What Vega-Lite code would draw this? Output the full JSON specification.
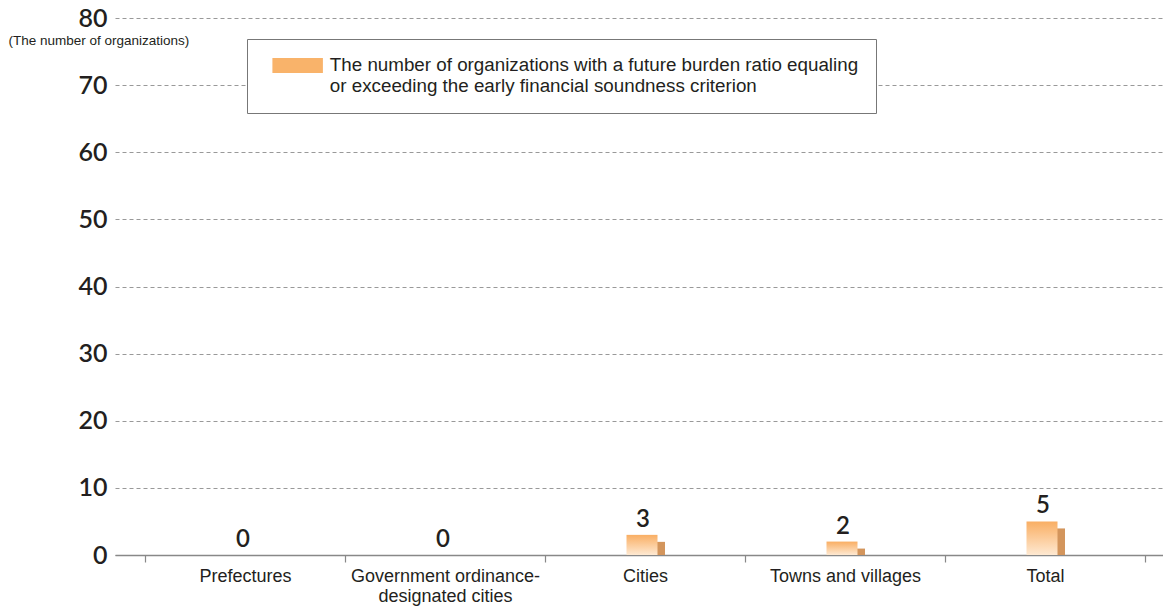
{
  "$schema": "https://vega.github.io/schema/vega-lite/v6.json",
  "width": 1048,
  "height": 537,
  "autosize": {"type": "none"},
  "padding": {"left": 115, "top": 18, "right": 0, "bottom": 52},
  "background": "white",
  "config": {"view": {"stroke": null}, "font": "Liberation Sans"},
  "data": {"values": [
    {"category": "Prefectures", "value": 0},
    {"category": "Government ordinance-designated cities", "value": 0},
    {"category": "Cities", "value": 3},
    {"category": "Towns and villages", "value": 2},
    {"category": "Total", "value": 5}
  ]},
  "encoding": {
    "x": {
      "field": "category", "type": "nominal",
      "scale": {"domain": ["Prefectures", "Government ordinance-designated cities", "Cities", "Towns and villages", "Total"], "paddingInner": 0, "paddingOuter": 0.12, "align": 0.625},
      "axis": {
        "title": null, "labelAngle": 0, "tickBand": "extent", "tickSize": 7,
        "tickColor": "#888", "domainColor": "#888", "domainWidth": 1.5, "tickWidth": 1.2,
        "labelFont": "Liberation Sans", "labelFontSize": 18, "labelColor": "#231f20",
        "labelPadding": 5, "labelLineHeight": 20, "labelBaseline": "top", "labelLimit": 300,
        "labelExpr": "datum.value == 'Government ordinance-designated cities' ? ['Government ordinance-', 'designated cities'] : datum.value",
        "grid": false
      }
    },
    "y": {
      "field": "value", "type": "quantitative",
      "scale": {"domain": [0, 80]},
      "axis": {
        "title": "(The number of organizations)", "titleAngle": 0, "titleAlign": "left",
        "titleBaseline": "middle", "titleX": -107, "titleY": 22,
        "titleFont": "Liberation Sans", "titleFontSize": 13.5, "titleFontWeight": "normal", "titleColor": "#231f20",
        "values": [0, 10, 20, 30, 40, 50, 60, 70, 80],
        "domain": false, "ticks": false, "labelPadding": 8,
        "labelFont": "Lato", "labelFontSize": 25, "labelFontWeight": 600, "labelColor": "#231f20",
        "grid": true, "gridDash": [4, 3], "gridColor": "#999", "gridWidth": 1
      }
    }
  },
  "layer": [
    {
      "transform": [{"filter": "datum.value > 0"}],
      "mark": {"type": "bar", "size": 31, "xOffset": 4.5, "yOffset": 7, "color": "#d3955c"},
      "encoding": {"y2": {"datum": 0}}
    },
    {
      "mark": {
        "type": "bar", "size": 31, "xOffset": -3,
        "color": {"x1": 0, "y1": 0, "x2": 0, "y2": 1, "gradient": "linear",
          "stops": [{"offset": 0, "color": "#f9ae63"}, {"offset": 1, "color": "#fee9d2"}]}
      }
    },
    {
      "mark": {"type": "text", "dy": -8, "baseline": "alphabetic", "xOffset": -2, "font": "Lato", "fontSize": 24, "fontWeight": 600, "color": "#231f20"},
      "encoding": {"text": {"field": "value", "type": "quantitative"}}
    },
    {
      "transform": [{"filter": "datum.value > 100"}],
      "mark": {"type": "bar"},
      "encoding": {
        "color": {
          "field": "series", "type": "nominal",
          "scale": {"domain": ["legend"], "range": ["#f9b36a"]},
          "legend": {
            "orient": "none", "legendX": 132, "legendY": 21, "title": null,
            "strokeColor": "#777", "fillColor": "white", "padding": 17,
            "symbolType": "M-0.133,-1H6.6V1H-0.133Z", "symbolSize": 225, "symbolStrokeWidth": 0,
            "labelFont": "Liberation Sans", "labelFontSize": 18.8, "labelColor": "#231f20",
            "labelLimit": 800, "labelOffset": 47, "labelLineHeight": 19,
            "labelExpr": "['The number of organizations with a future burden ratio equaling', 'or exceeding the early financial soundness criterion']"
          }
        }
      }
    }
  ]
}
